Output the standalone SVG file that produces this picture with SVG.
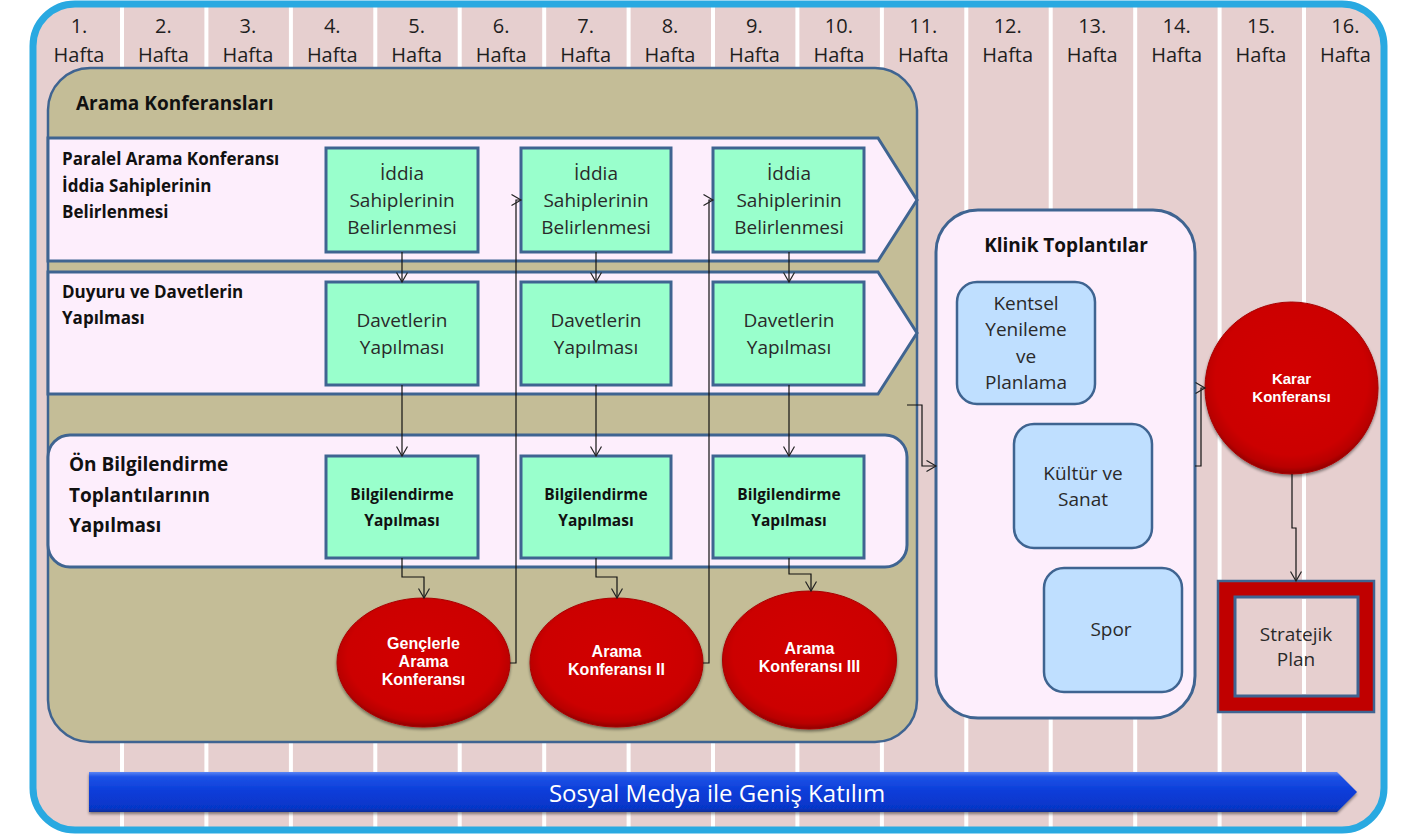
<svg xmlns="http://www.w3.org/2000/svg" width="1425" height="834" viewBox="0 0 1425 834">
<defs>
<style>
text{font-family:"Open Sans","Noto Sans","DejaVu Sans",sans-serif}
.hd{font-size:20px;fill:#1e1e1e;text-anchor:middle}
.sep{stroke:#ffffff;stroke-width:4}
.cont{fill:#C4BD97;stroke:#3F6491;stroke-width:2.5}
.row{fill:#FDEEFC;stroke:#3F6491;stroke-width:3}
.lbl{font-size:17px;font-weight:bold;fill:#111}
.lbl2{font-size:19px;font-weight:bold;fill:#111}
.gb{fill:#99FFCC;stroke:#3F6491;stroke-width:3}
.gt{font-size:19px;fill:#2a2a2a;text-anchor:middle}
.bt{font-size:15.5px;font-weight:bold;fill:#111;text-anchor:middle}
.el{fill:url(#rg);stroke:#A80000;stroke-width:1;filter:url(#sh)}
.et{font-family:"Liberation Sans",Arial,sans-serif;font-size:16px;font-weight:bold;fill:#ffffff;text-anchor:middle}
.bb{fill:#BFDFFF;stroke:#3F6491;stroke-width:2.5}
.bl{font-size:19px;fill:#2a2a2a;text-anchor:middle}
.cn{fill:none;stroke:#111;stroke-width:1.2}
.ar{marker-end:url(#a)}
</style>
<marker id="a" markerWidth="12" markerHeight="12" refX="10" refY="6" orient="auto" markerUnits="userSpaceOnUse">
<path d="M0.5,0.5 L10,6 L0.5,11.5" fill="none" stroke="#222" stroke-width="1.2"/>
</marker>
<radialGradient id="rg" cx="50%" cy="45%" r="55%">
<stop offset="0" stop-color="#D20000"/>
<stop offset="0.8" stop-color="#CC0000"/>
<stop offset="0.93" stop-color="#B80000"/>
<stop offset="1" stop-color="#900000"/>
</radialGradient>
<linearGradient id="bg" x1="0" y1="0" x2="0" y2="1">
<stop offset="0" stop-color="#5A86F5"/>
<stop offset="0.12" stop-color="#1E52E6"/>
<stop offset="0.5" stop-color="#0A3CD8"/>
<stop offset="0.9" stop-color="#0636C8"/>
<stop offset="1" stop-color="#0B2C9C"/>
</linearGradient>
<filter id="sh" x="-10%" y="-10%" width="120%" height="125%">
<feGaussianBlur in="SourceAlpha" stdDeviation="1.5"/>
<feOffset dx="0" dy="2" result="b"/>
<feComponentTransfer><feFuncA type="linear" slope="0.45"/></feComponentTransfer>
<feMerge><feMergeNode/><feMergeNode in="SourceGraphic"/></feMerge>
</filter>
<clipPath id="fc"><rect x="33" y="4" width="1351" height="826" rx="42"/></clipPath>
</defs>

<rect width="1425" height="834" fill="#ffffff"/>

<g id="frame">
<rect x="33" y="4" width="1351" height="826" rx="42" fill="#E6CFCF"/>
<g clip-path="url(#fc)">
<line class="sep" x1="122" y1="0" x2="122" y2="834"/>
<line class="sep" x1="206.4" y1="0" x2="206.4" y2="834"/>
<line class="sep" x1="290.9" y1="0" x2="290.9" y2="834"/>
<line class="sep" x1="375.3" y1="0" x2="375.3" y2="834"/>
<line class="sep" x1="459.7" y1="0" x2="459.7" y2="834"/>
<line class="sep" x1="544.2" y1="0" x2="544.2" y2="834"/>
<line class="sep" x1="628.6" y1="0" x2="628.6" y2="834"/>
<line class="sep" x1="713" y1="0" x2="713" y2="834"/>
<line class="sep" x1="797.4" y1="0" x2="797.4" y2="834"/>
<line class="sep" x1="881.9" y1="0" x2="881.9" y2="834"/>
<line class="sep" x1="966.3" y1="0" x2="966.3" y2="834"/>
<line class="sep" x1="1050.7" y1="0" x2="1050.7" y2="834"/>
<line class="sep" x1="1135.2" y1="0" x2="1135.2" y2="834"/>
<line class="sep" x1="1219.6" y1="0" x2="1219.6" y2="834"/>
<line class="sep" x1="1304" y1="0" x2="1304" y2="834"/>
</g>
<rect x="33" y="4" width="1351" height="826" rx="42" fill="none" stroke="#29A9E1" stroke-width="7"/>
</g>

<g id="weeks">
<text class="hd" x="79" y="33">1.</text><text class="hd" x="79" y="62">Hafta</text>
<text class="hd" x="163.4" y="33">2.</text><text class="hd" x="163.4" y="62">Hafta</text>
<text class="hd" x="247.9" y="33">3.</text><text class="hd" x="247.9" y="62">Hafta</text>
<text class="hd" x="332.3" y="33">4.</text><text class="hd" x="332.3" y="62">Hafta</text>
<text class="hd" x="416.7" y="33">5.</text><text class="hd" x="416.7" y="62">Hafta</text>
<text class="hd" x="501.2" y="33">6.</text><text class="hd" x="501.2" y="62">Hafta</text>
<text class="hd" x="585.6" y="33">7.</text><text class="hd" x="585.6" y="62">Hafta</text>
<text class="hd" x="670" y="33">8.</text><text class="hd" x="670" y="62">Hafta</text>
<text class="hd" x="754.4" y="33">9.</text><text class="hd" x="754.4" y="62">Hafta</text>
<text class="hd" x="838.9" y="33">10.</text><text class="hd" x="838.9" y="62">Hafta</text>
<text class="hd" x="923.3" y="33">11.</text><text class="hd" x="923.3" y="62">Hafta</text>
<text class="hd" x="1007.7" y="33">12.</text><text class="hd" x="1007.7" y="62">Hafta</text>
<text class="hd" x="1092.2" y="33">13.</text><text class="hd" x="1092.2" y="62">Hafta</text>
<text class="hd" x="1176.6" y="33">14.</text><text class="hd" x="1176.6" y="62">Hafta</text>
<text class="hd" x="1261" y="33">15.</text><text class="hd" x="1261" y="62">Hafta</text>
<text class="hd" x="1345.4" y="33">16.</text><text class="hd" x="1345.4" y="62">Hafta</text>
</g>

<g id="arama-konferanslari">
<rect class="cont" x="48" y="68" width="869" height="674" rx="42"/>
<text class="lbl2" x="76" y="110">Arama Konferansları</text>
</g>

<g id="row-iddia">
<polygon class="row" points="48,138 878,138 917,200 878,261 48,261"/>
<text class="lbl" x="62" y="165">Paralel Arama Konferansı</text>
<text class="lbl" x="62" y="192">İddia Sahiplerinin</text>
<text class="lbl" x="62" y="218">Belirlenmesi</text>
</g>

<g id="row-davet">
<polygon class="row" points="48,272 878,272 917,333 878,394 48,394"/>
<text class="lbl" x="62" y="298">Duyuru ve Davetlerin</text>
<text class="lbl" x="62" y="324">Yapılması</text>
</g>

<g id="row-bilgi">
<rect class="row" x="48" y="435" width="859" height="132" rx="22"/>
<text class="lbl2" x="69" y="471">Ön Bilgilendirme</text>
<text class="lbl2" x="69" y="502">Toplantılarının</text>
<text class="lbl2" x="69" y="532">Yapılması</text>
</g>

<g id="iddia-1"><rect class="gb" x="326" y="148" width="152" height="104"/>
<text class="gt" x="402" y="180">İddia</text><text class="gt" x="402" y="207">Sahiplerinin</text><text class="gt" x="402" y="234">Belirlenmesi</text></g>
<g id="iddia-2"><rect class="gb" x="521" y="148" width="150" height="104"/>
<text class="gt" x="596" y="180">İddia</text><text class="gt" x="596" y="207">Sahiplerinin</text><text class="gt" x="596" y="234">Belirlenmesi</text></g>
<g id="iddia-3"><rect class="gb" x="713" y="148" width="151" height="104"/>
<text class="gt" x="789" y="180">İddia</text><text class="gt" x="789" y="207">Sahiplerinin</text><text class="gt" x="789" y="234">Belirlenmesi</text></g>

<g id="davet-1"><rect class="gb" x="326" y="282" width="152" height="103"/>
<text class="gt" x="402" y="327">Davetlerin</text><text class="gt" x="402" y="354">Yapılması</text></g>
<g id="davet-2"><rect class="gb" x="521" y="282" width="150" height="103"/>
<text class="gt" x="596" y="327">Davetlerin</text><text class="gt" x="596" y="354">Yapılması</text></g>
<g id="davet-3"><rect class="gb" x="713" y="282" width="151" height="103"/>
<text class="gt" x="789" y="327">Davetlerin</text><text class="gt" x="789" y="354">Yapılması</text></g>

<g id="bilgi-1"><rect class="gb" x="326" y="456" width="152" height="102"/>
<text class="bt" x="402" y="500">Bilgilendirme</text><text class="bt" x="402" y="526">Yapılması</text></g>
<g id="bilgi-2"><rect class="gb" x="521" y="456" width="150" height="102"/>
<text class="bt" x="596" y="500">Bilgilendirme</text><text class="bt" x="596" y="526">Yapılması</text></g>
<g id="bilgi-3"><rect class="gb" x="713" y="456" width="151" height="102"/>
<text class="bt" x="789" y="500">Bilgilendirme</text><text class="bt" x="789" y="526">Yapılması</text></g>

<g id="genclerle"><ellipse class="el" cx="423.5" cy="662.5" rx="86.5" ry="64.5"/>
<text class="et" x="423.5" y="649">Gençlerle</text><text class="et" x="423.5" y="667">Arama</text><text class="et" x="423.5" y="685">Konferansı</text></g>
<g id="arama-2"><ellipse class="el" cx="616.5" cy="662.5" rx="86.5" ry="64.5"/>
<text class="et" x="616.5" y="657">Arama</text><text class="et" x="616.5" y="675">Konferansı II</text></g>
<g id="arama-3"><ellipse class="el" cx="809.5" cy="660" rx="87" ry="69"/>
<text class="et" x="809.5" y="654">Arama</text><text class="et" x="809.5" y="672">Konferansı III</text></g>

<g id="klinik">
<rect class="row" x="936" y="210" width="259" height="508" rx="42" stroke-width="2.5"/>
<text class="lbl2" x="1066" y="252" text-anchor="middle">Klinik Toplantılar</text>
</g>
<g id="kentsel"><rect class="bb" x="957" y="282" width="138" height="122" rx="20"/>
<text class="bl" x="1026" y="310">Kentsel</text><text class="bl" x="1026" y="336">Yenileme</text><text class="bl" x="1026" y="363">ve</text><text class="bl" x="1026" y="389">Planlama</text></g>
<g id="kultur"><rect class="bb" x="1014" y="424" width="138" height="124" rx="20"/>
<text class="bl" x="1083" y="480">Kültür ve</text><text class="bl" x="1083" y="506">Sanat</text></g>
<g id="spor"><rect class="bb" x="1044" y="568" width="138" height="124" rx="20"/>
<text class="bl" x="1111" y="636">Spor</text></g>

<g id="karar"><ellipse class="el" cx="1291.5" cy="388" rx="86.5" ry="86"/>
<text class="et" x="1291.5" y="384" style="font-size:15px">Karar</text><text class="et" x="1291.5" y="402" style="font-size:15px">Konferansı</text></g>

<g id="stratejik">
<rect x="1218" y="581" width="156" height="131" fill="#C00000" stroke="#3F6491" stroke-width="2.5"/>
<rect x="1235" y="597" width="123" height="99" fill="#E6CFCF" stroke="#3F6491" stroke-width="3"/>
<line x1="1304" y1="599" x2="1304" y2="694" stroke="#ffffff" stroke-width="4"/>
<text class="bl" x="1296" y="641">Stratejik</text><text class="bl" x="1296" y="666">Plan</text>
</g>

<g id="sosyal-medya">
<polygon points="89,772 1337,772 1357,792 1337,812 89,812" fill="url(#bg)" filter="url(#sh)"/>
<text x="717" y="802" text-anchor="middle" style="font-size:24px;fill:#ffffff">Sosyal Medya ile Geniş Katılım</text>
</g>

<g id="connectors">
<path class="cn ar" d="M402,252 V282"/>
<path class="cn ar" d="M596,252 V282"/>
<path class="cn ar" d="M789,252 V282"/>
<path class="cn ar" d="M402,385 V456"/>
<path class="cn ar" d="M596,385 V456"/>
<path class="cn ar" d="M789,385 V456"/>
<path class="cn ar" d="M402,558 V577 H424 V598"/>
<path class="cn ar" d="M596,558 V577 H617 V598"/>
<path class="cn ar" d="M789,558 V574 H811 V591"/>
<path class="cn ar" d="M510,663 H516 V200 H521"/>
<path class="cn ar" d="M703,663 H709 V200 H713"/>
<path class="cn ar" d="M907,405 H922 V466 H936"/>
<path class="cn ar" d="M1195,466 H1201 V388 H1205"/>
<path class="cn ar" d="M1292,474 V528 H1296 V581"/>
</g>
</svg>
